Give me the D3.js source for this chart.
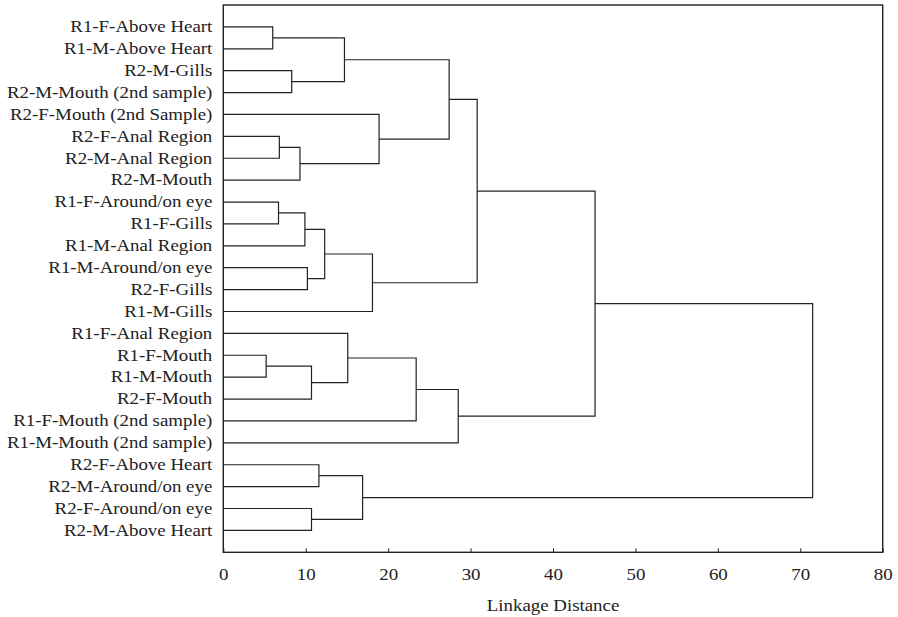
<!DOCTYPE html>
<html>
<head>
<meta charset="utf-8">
<script src="https://cdn.jsdelivr.net/npm/d3@7"></script>
<style>
  body { margin: 0; background: #fff; }
  text { font-family: "Liberation Serif", "Times New Roman", serif; fill: #222; }
</style>
</head>
<body>
<svg id="chart"></svg>
<script>
// leaf labels, top to bottom
const leaves = [
  "R1-F-Above Heart", "R1-M-Above Heart", "R2-M-Gills", "R2-M-Mouth (2nd sample)",
  "R2-F-Mouth (2nd Sample)", "R2-F-Anal Region", "R2-M-Anal Region", "R2-M-Mouth",
  "R1-F-Around/on eye", "R1-F-Gills", "R1-M-Anal Region", "R1-M-Around/on eye",
  "R2-F-Gills", "R1-M-Gills", "R1-F-Anal Region", "R1-F-Mouth",
  "R1-M-Mouth", "R2-F-Mouth", "R1-F-Mouth (2nd sample)", "R1-M-Mouth (2nd sample)",
  "R2-F-Above Heart", "R2-M-Around/on eye", "R2-F-Around/on eye", "R2-M-Above Heart"
];

// linkage rows: [child a, child b, distance]; ids >= 24 point to earlier rows
const merges = [
  [15, 16, 5.2], [0, 1, 6.0], [8, 9, 6.7], [5, 6, 6.8],
  [2, 3, 8.3], [27, 7, 9.3], [26, 10, 9.9], [11, 12, 10.2],
  [24, 17, 10.7], [22, 23, 10.7], [20, 21, 11.6], [30, 31, 12.3],
  [25, 28, 14.7], [14, 32, 15.1], [34, 33, 16.9], [35, 13, 18.1],
  [4, 29, 18.9], [37, 18, 23.4], [36, 40, 27.4], [41, 19, 28.5],
  [42, 39, 30.8], [44, 43, 45.1], [45, 38, 71.5]
];

const majorTicks = [0, 10, 20, 30, 40, 50, 60, 70, 80];
const minorTicks = d3.range(0, 81, 2);

const W = 898, H = 617;
const m = { top: 5, right: 15.3, bottom: 64.7, left: 223.3 };
const iw = W - m.left - m.right;
const ih = H - m.top - m.bottom;
const stretch = 1.18; // glyphs in the source are wider than tall

const svg = d3.select("#chart").attr("width", W).attr("height", H);
const g = svg.append("g").attr("transform", `translate(${m.left},${m.top})`);

const x = d3.scaleLinear().domain([0, 80]).range([0, iw]);
const y = d3.scalePoint().domain(leaves).range([0, ih]).padding(1);

// node positions: leaves first, then merge nodes
const nodes = leaves.map(d => ({ h: 0, y: y(d) }));
merges.forEach(([a, b, h]) => {
  nodes.push({ h, y: (nodes[a].y + nodes[b].y) / 2 });
});

// dendrogram links
g.append("g")
  .selectAll("path")
  .data(merges)
  .join("path")
  .attr("fill", "none")
  .attr("stroke", "#222")
  .attr("stroke-width", 1.2)
  .attr("d", ([a, b, h]) => {
    const na = nodes[a], nb = nodes[b];
    return `M${x(na.h)},${na.y}H${x(h)}V${nb.y}H${x(nb.h)}`;
  });

// frame
g.append("rect")
  .attr("width", iw).attr("height", ih)
  .attr("fill", "none").attr("stroke", "#222").attr("stroke-width", 1.4);

// x axis, ticks pointing into the plot
const ax = g.append("g").attr("transform", `translate(0,${ih})`);
ax.call(d3.axisBottom(x).tickValues(minorTicks).tickSize(-2).tickFormat(""));
ax.call(d3.axisBottom(x).tickValues(majorTicks).tickSize(-4).tickPadding(16).tickFormat(d3.format("d")));
ax.select(".domain").remove();
ax.selectAll("line").attr("stroke", "#222");
ax.selectAll("text")
  .attr("font-size", 16)
  .attr("font-family", null)
  .attr("transform", `scale(${stretch},1)`);

// leaf labels
const lab = g.append("g")
  .selectAll("g")
  .data(leaves)
  .join("g")
  .attr("transform", d => `translate(-11,${y(d)})`);
lab.append("text")
  .attr("text-anchor", "end")
  .attr("dy", "0.33em")
  .attr("font-size", 16)
  .attr("transform", `scale(${stretch},1)`)
  .text(d => d);

// axis title
svg.append("text")
  .attr("transform", `translate(${m.left + iw / 2},611) scale(${stretch},1)`)
  .attr("text-anchor", "middle")
  .attr("font-size", 16)
  .text("Linkage Distance");
</script>
</body>
</html>
